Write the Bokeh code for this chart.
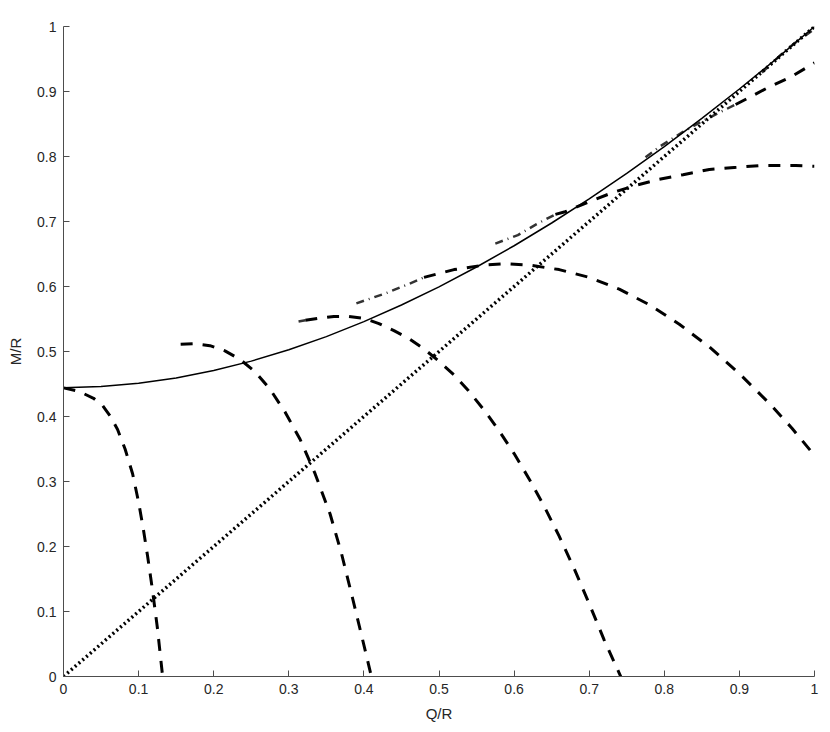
from bokeh.plotting import figure
from bokeh.models import Range1d, FixedTicker
from bokeh.embed import file_html
from bokeh.resources import INLINE

# ---------------- data ----------------
tick_vals = [0, 0.1, 0.2, 0.3, 0.4, 0.5, 0.6, 0.7, 0.8, 0.9, 1]
tick_labels = ["0", "0.1", "0.2", "0.3", "0.4", "0.5", "0.6", "0.7", "0.8", "0.9", "1"]

# solid bound curve
q_bound = [0.0, 0.05, 0.1, 0.15, 0.2, 0.25, 0.3, 0.35, 0.4, 0.45, 0.5,
           0.55, 0.6, 0.65, 0.7, 0.75, 0.8, 0.85, 0.9, 0.95, 1.0]
m_bound = [0.4444, 0.4461, 0.4511, 0.4593, 0.4707, 0.4852, 0.5027, 0.5229, 0.5459, 0.5715, 0.5995,
           0.6300, 0.6627, 0.6977, 0.7348, 0.7740, 0.8153, 0.8586, 0.9038, 0.9509, 1.0]

# dotted diagonal
q_diag = [0.0, 1.0]
m_diag = [0.0, 1.0]

# dashed curves
q1 = [0.0, 0.02, 0.04, 0.052, 0.062, 0.072, 0.082, 0.092, 0.1, 0.106, 0.112, 0.118, 0.125, 0.132]
m1 = [0.444, 0.439, 0.428, 0.417, 0.401, 0.38, 0.35, 0.312, 0.268, 0.229, 0.185, 0.137, 0.075, 0.0]

q2 = [0.156, 0.175, 0.195, 0.215, 0.235, 0.255, 0.275, 0.295, 0.315, 0.335, 0.355, 0.37, 0.385, 0.398, 0.41]
m2 = [0.511, 0.512, 0.509, 0.501, 0.488, 0.469, 0.442, 0.407, 0.365, 0.312, 0.25, 0.19, 0.12, 0.058, 0.0]

q3 = [0.322, 0.34, 0.36, 0.38, 0.40, 0.42, 0.44, 0.46, 0.48, 0.50, 0.52, 0.539, 0.56, 0.58,
      0.60, 0.62, 0.64, 0.66, 0.68, 0.70, 0.72, 0.742]
m3 = [0.548, 0.551, 0.554, 0.554, 0.551, 0.543, 0.532, 0.52, 0.504, 0.485, 0.464, 0.44, 0.41, 0.378,
      0.343, 0.304, 0.262, 0.216, 0.166, 0.112, 0.056, 0.0]
q3a = [0.313, 0.322]
m3a = [0.546, 0.548]

q4 = [0.48, 0.52, 0.56, 0.59, 0.62, 0.66, 0.70, 0.74, 0.78, 0.82, 0.86, 0.90, 0.94, 0.97, 1.0]
m4 = [0.614, 0.626, 0.633, 0.635, 0.633, 0.626, 0.614, 0.596, 0.572, 0.542, 0.507, 0.466, 0.42, 0.382, 0.34]
q4a = [0.39, 0.40, 0.43, 0.46, 0.48]
m4a = [0.574, 0.578, 0.590, 0.604, 0.614]

q5 = [0.655, 0.668, 0.699, 0.73, 0.76, 0.793, 0.825, 0.86, 0.893, 0.926, 0.958, 0.975, 1.0]
m5 = [0.711, 0.715, 0.73, 0.744, 0.755, 0.765, 0.772, 0.78, 0.783, 0.786, 0.786, 0.786, 0.785]
q5a = [0.575, 0.605, 0.63, 0.655]
m5a = [0.666, 0.679, 0.696, 0.711]

q6 = [0.895, 0.91, 0.938, 0.968, 1.0]
m6 = [0.880, 0.889, 0.906, 0.922, 0.944]
q6a = [0.775, 0.795, 0.825, 0.85, 0.881, 0.895]
m6a = [0.799, 0.816, 0.838, 0.854, 0.872, 0.880]

q7a = [0.93, 0.96, 0.98, 1.0]
m7a = [0.929, 0.962, 0.980, 0.996]

# ---------------- figure ----------------
p = figure(width=822, height=724, output_backend="svg", toolbar_location=None,
           x_range=Range1d(0, 1), y_range=Range1d(0, 1),
           min_border_left=63, min_border_right=8, min_border_top=26, min_border_bottom=48)
p.outline_line_color = None
p.xgrid.visible = False
p.ygrid.visible = False
p.background_fill_color = "white"
p.border_fill_color = "white"

for ax in (p.xaxis[0], p.yaxis[0]):
    ax.ticker = FixedTicker(ticks=tick_vals)
    ax.major_label_overrides = {v: s for v, s in zip(tick_vals, tick_labels)}
    ax.major_tick_in = 6
    ax.major_tick_out = 0
    ax.minor_tick_in = 0
    ax.minor_tick_out = 0
    ax.axis_line_color = "#4d4d4d"
    ax.major_tick_line_color = "#4d4d4d"
    ax.major_label_text_font = "Liberation Sans"
    ax.major_label_text_font_size = "14px"
    ax.major_label_text_color = "#262626"
    ax.axis_label_text_font = "Liberation Sans"
    ax.axis_label_text_font_size = "15px"
    ax.axis_label_text_font_style = "normal"
    ax.axis_label_text_color = "#262626"

p.xaxis.axis_label = "Q/R"
p.yaxis.axis_label = "M/R"
p.xaxis.major_label_standoff = 7
p.yaxis.major_label_standoff = 7
p.xaxis.axis_label_standoff = 8
p.yaxis.axis_label_standoff = 10

# solid
p.line(q_bound, m_bound, line_color="black", line_width=1.5)
# dotted
p.line(q_diag, m_diag, line_color="black", line_width=3.5, line_dash="2 3")

# dashed curves
dash = "12 10"
for q, m in ((q1, m1), (q2, m2), (q3, m3), (q4, m4), (q5, m5), (q6, m6)):
    p.line(q, m, line_color="black", line_width=3, line_dash=dash)

# faint dash-dot parts
for q, m in ((q3a, m3a), (q4a, m4a), (q5a, m5a), (q6a, m6a), (q7a, m7a)):
    p.line(q, m, line_color="black", line_width=2.5, line_alpha=0.8, line_dash="8 5 1 5")

open("out.html", "w").write(file_html(p, INLINE))
